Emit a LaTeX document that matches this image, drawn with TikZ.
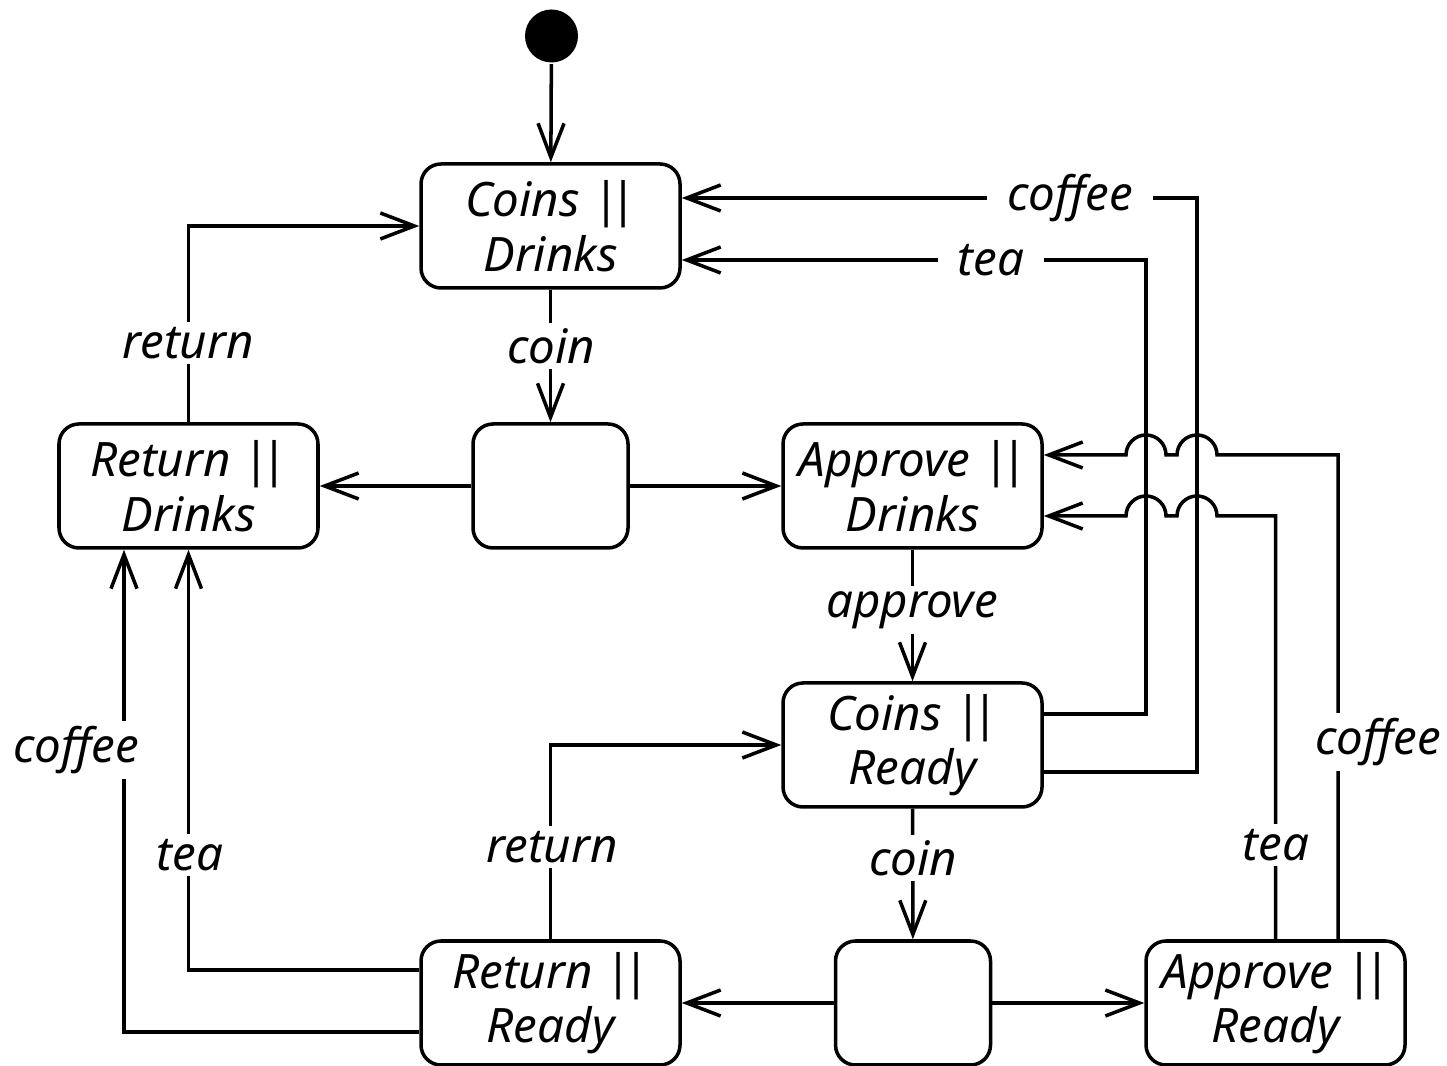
\documentclass[tikz,border=0pt]{standalone}
\usepackage{fontspec}
\setmainfont{Noto Sans}
\usetikzlibrary{arrows.meta,calc}
\newcommand{\bars}{|\kern-2.4pt|}
\begin{document}
\begin{tikzpicture}[>={Straight Barb[length=3.4mm,width=2.6mm]}, line width=1pt,
    every node/.style={font=\fontsize{13.5}{15.5}\selectfont\itshape},
    state/.style={draw, rounded corners=2mm, minimum width=2.59cm, minimum height=1.24cm, align=center, inner sep=0pt},
    box/.style={state, minimum width=1.55cm},
    lbl/.style={fill=white, inner xsep=2mm, inner ysep=0.5mm}]
\useasboundingbox (0,0) rectangle (14.47,10.66);
% states
\node[circle, fill, minimum size=5.3mm, inner sep=0pt] (init) at (5.515,10.30) {};
\node[state] (CD) at (5.505,8.40) {Coins \bars\\Drinks};
\node[box] (J1) at (5.505,5.80) {};
\node[state] (RD) at (1.885,5.80) {Return \bars\\Drinks};
\node[state] (AD) at (9.125,5.80) {Approve \bars\\Drinks};
\node[state] (CR) at (9.125,3.21) {Coins \bars\\Ready};
\node[box] (J2) at (9.13,0.63) {};
\node[state] (RR) at (5.505,0.63) {Return \bars\\Ready};
\node[state] (AR) at (12.755,0.63) {Approve \bars\\Ready};
% straight transitions
\draw[->] (init) -- (CD);
\draw[->] (CD) -- (J1);
\draw[->] (J1) -- (RD);
\draw[->] (J1) -- (AD);
\draw[->] (AD) -- (CR);
\draw[->] (CR) -- (J2);
\draw[->] (J2) -- (RR);
\draw[->] (J2) -- (AR);
% return
\draw[->] (RD.north) |- (CD.west);
\draw[->] (RR.north) |- (CR.west);
% drinks from Return || Ready
\draw[->] ([yshift=3.3mm]RR.west) -| (RD.south);
\draw[->] ([yshift=-2.9mm]RR.west) -| ([xshift=-6.45mm]RD.south);
% drinks from Coins || Ready
\coordinate (teaRail) at (11.46,8.06);
\coordinate (coffeeRail) at (11.97,8.68);
\draw[->] ([yshift=3.1mm]CR.east) -| (teaRail) -- (teaRail -| CD.east);
\draw[->] ([yshift=-2.7mm]CR.east) -| (coffeeRail) -- (coffeeRail -| CD.east);
% drinks from Approve || Ready, hopping over the rails
\coordinate (teaRow) at ([yshift=-3mm]AD.east);
\coordinate (coffeeRow) at ([yshift=3.1mm]AD.east);
\draw[->] (AR.north) |- ($(coffeeRail |- teaRow)+(0.2,0)$)
    arc[start angle=0, end angle=180, radius=0.2] -- ($(teaRail |- teaRow)+(0.2,0)$)
    arc[start angle=0, end angle=180, radius=0.2] -- (teaRow);
\draw[->] ([xshift=6.25mm]AR.north) |- ($(coffeeRail |- coffeeRow)+(0.2,0)$)
    arc[start angle=0, end angle=180, radius=0.2] -- ($(teaRail |- coffeeRow)+(0.2,0)$)
    arc[start angle=0, end angle=180, radius=0.2] -- (coffeeRow);
% labels
\node[lbl] (coinTop) at (5.51,7.20) {coin};
\node[lbl] (returnTop) at (1.88,7.23) {return};
\node[lbl] (approve) at (9.12,4.56) {approve};
\node[lbl] (coinLow) at (9.13,2.08) {coin};
\node[lbl] (returnLow) at (5.52,2.19) {return};
\node[lbl] (teaLeft) at (1.90,2.11) {tea};
\node[lbl] (coffeeLeft) at (0.76,3.16) {coffee};
\node[lbl] (teaTop) at (9.91,8.06) {tea};
\node[lbl] (coffeeTop) at (10.70,8.68) {coffee};
\node[lbl] (teaRight) at (12.76,2.21) {tea};
\node[lbl] (coffeeRight) at (13.78,3.24) {coffee};
\end{tikzpicture}
\end{document}
